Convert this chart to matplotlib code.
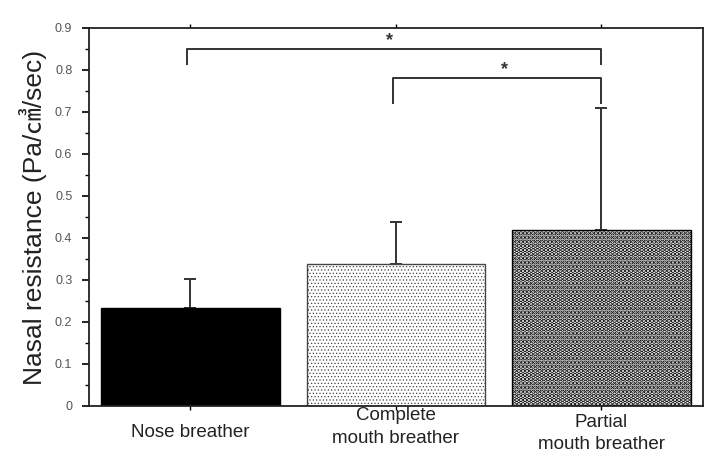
import matplotlib
matplotlib.use("Agg")
import matplotlib.pyplot as plt
from matplotlib.ticker import MultipleLocator

# =========================
# DATA
# =========================

groups = ["Nose breather", "Complete\nmouth breather", "Partial\nmouth breather"]
means = [0.233, 0.337, 0.418]
upper_sd = [0.069, 0.100, 0.292]

# significance brackets: (left group, right group, bar height, left drop, right drop)
brackets = [(0, 2, 0.850, 0.812, 0.812), (1, 2, 0.781, 0.719, 0.719)]
star_pos = [(0.97, 0.871), (1.53, 0.800)]

plt.rcParams["font.family"] = ["Liberation Sans", "DejaVu Sans"]

fig = plt.figure(figsize=(7.04, 4.5), dpi=100)
ax = fig.add_axes([0.1264, 0.0978, 0.872, 0.84])

x = list(range(len(groups)))
styles = [
    dict(color="black", edgecolor="black", hatch=None, hlw=1.0),
    dict(color="white", edgecolor="#444444", hatch=".....", hlw=0.5),
    dict(color="white", edgecolor="black", hatch="....", hlw=2.3),
]

for i in x:
    st = styles[i]
    with plt.rc_context({"hatch.linewidth": st["hlw"], "hatch.color": "black"}):
        ax.bar(x[i], means[i], width=0.87, color=st["color"],
               edgecolor=st["edgecolor"], linewidth=1.0,
               hatch=st["hatch"], zorder=2)
    ax.errorbar(x[i], means[i], yerr=[[0], [upper_sd[i]]], fmt="none",
                ecolor="#333333", elinewidth=1.4, capsize=4, capthick=1.4,
                zorder=1)

# brackets
for g1, g2, h, d1, d2 in brackets:
    ax.plot([x[g1] - 0.015, x[g1] - 0.015, x[g2], x[g2]], [d1, h, h, d2],
            color="#333333", lw=1.4, solid_capstyle="butt", clip_on=False)
for sx, sy in star_pos:
    ax.text(sx, sy, "*", ha="center", va="center", fontsize=13,
            fontweight="bold", color="#333333")

ax.set_xlim(-0.494, 2.494)
ax.set_ylim(0, 0.9)

ax.yaxis.set_minor_locator(MultipleLocator(0.05))
ax.set_yticks([i / 10 for i in range(10)])
ax.set_yticklabels(["0"] + [f"{i / 10:.1f}" for i in range(1, 10)])

ax.set_xticks(x)
ax.set_xticklabels([])
ax.tick_params(axis="y", which="major", direction="out", length=5, width=1.2,
               labelsize=9, labelcolor="#555555", pad=7)
ax.tick_params(axis="y", which="minor", direction="out", length=3, width=1.0)
ax.tick_params(axis="x", which="major", direction="out", length=3, width=1.0,
               top=True, bottom=True)

# offsets (points) of the category labels below the axis
label_offset = [-13, -1, -5.5]
for i in x:
    ax.annotate(groups[i], xy=(x[i], 0), xycoords=("data", "axes fraction"),
                xytext=(0, label_offset[i]), textcoords="offset points",
                ha="center", va="top", fontsize=13.5, color="#222222",
                linespacing=1.42, annotation_clip=False)

for side in ["left", "bottom", "top", "right"]:
    ax.spines[side].set_linewidth(1.3)
    ax.spines[side].set_color("#222222")

ax.set_ylabel("Nasal resistance (Pa/㎤/sec)", fontsize=19, color="#222222",
              family=["Liberation Sans", "Noto Sans CJK JP"], labelpad=6)

fig.savefig("out.png", dpi=100)
